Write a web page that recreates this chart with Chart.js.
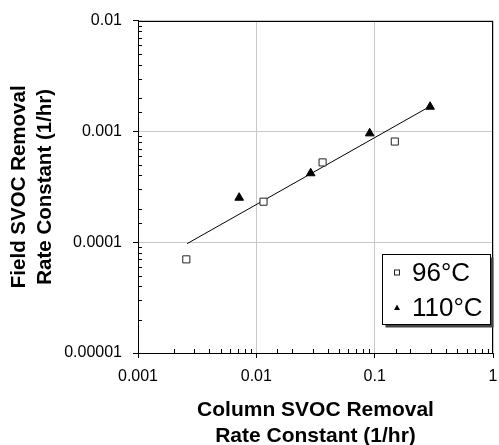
<!DOCTYPE html>
<html>
<head>
<meta charset="utf-8">
<script src="https://cdn.jsdelivr.net/npm/chart.js@4/dist/chart.umd.min.js"></script>
<style>
  body { margin: 0; background: #fff; }
  #wrap { width: 499px; height: 445px; position: relative; }
</style>
</head>
<body>
<div id="wrap"><canvas id="svocChart"></canvas></div>
<script>
// valeurs
const colX96 = [0.00256, 0.0115, 0.0363, 0.148];
const fieldY96 = [0.000070, 0.000232, 0.000525, 0.00081];
const colX110 = [0.00716, 0.0288, 0.0908, 0.294];
const fieldY110 = [0.000252, 0.000419, 0.00096, 0.00167];
const fitX = [0.0026, 0.27];
const fitY = [0.000097, 0.0016];
const seriesLabels = ['96\u00B0C', '110\u00B0C'];
const xTitle = ['Column SVOC Removal', 'Rate Constant (1/hr)'];
const yTitle = ['Field SVOC Removal', 'Rate Constant (1/hr)'];

const FONT = '"Liberation Sans", Arial, Helvetica, sans-serif';

function toPoints(xs, ys) {
    return xs.map((v, i) => ({ x: v, y: ys[i] }));
}

function isPow10(v) {
    const l = Math.log10(v);
    return Math.abs(l - Math.round(l)) < 1e-6;
}

function decadeLabel(v) {
    return isPow10(v) ? String(10 ** Math.round(Math.log10(v))) : '';
}

// cadre, graduations secondaires vers l'intérieur
const framePlugin = {
    id: 'frame',
    beforeDatasetsDraw(chart) {
        const { ctx, chartArea: a, scales: { x, y } } = chart;
        ctx.save();
        ctx.strokeStyle = '#000';
        ctx.lineWidth = 1;
        ctx.beginPath();
        x.ticks.forEach(t => {
            if (isPow10(t.value)) return;
            const px = Math.round(x.getPixelForValue(t.value)) + 0.5;
            ctx.moveTo(px, a.bottom);
            ctx.lineTo(px, a.bottom - 4);
        });
        y.ticks.forEach(t => {
            if (isPow10(t.value)) return;
            const py = Math.round(y.getPixelForValue(t.value)) + 0.5;
            ctx.moveTo(a.left, py);
            ctx.lineTo(a.left + 4, py);
        });
        ctx.stroke();
        ctx.strokeRect(Math.round(a.left) + 0.5, Math.round(a.top) + 0.5,
            Math.round(a.right - a.left) - 1, Math.round(a.bottom - a.top));
        ctx.restore();
    }
};

// légende encadrée avec ombre
const boxLegend = {
    id: 'boxLegend',
    afterDraw(chart) {
        const { ctx } = chart;
        const bx = 382.5, by = 254.5, bw = 108, bh = 70;
        ctx.save();
        ctx.fillStyle = '#444';
        ctx.fillRect(bx + 3, by + 3, bw, bh);
        ctx.fillStyle = '#fff';
        ctx.fillRect(bx, by, bw, bh);
        ctx.strokeStyle = '#000';
        ctx.lineWidth = 1;
        ctx.strokeRect(bx, by, bw, bh);

        const rows = [by + 18, by + 53];
        // carré
        ctx.strokeStyle = '#222';
        ctx.strokeRect(394.5, rows[0] - 2.5, 5, 5);
        // triangle
        ctx.fillStyle = '#000';
        ctx.beginPath();
        ctx.moveTo(397, rows[1] - 3);
        ctx.lineTo(400, rows[1] + 2.5);
        ctx.lineTo(394, rows[1] + 2.5);
        ctx.closePath();
        ctx.fill();

        ctx.fillStyle = '#000';
        ctx.font = '26px ' + FONT;
        ctx.textBaseline = 'middle';
        ctx.textAlign = 'left';
        ctx.fillText(seriesLabels[0], 412, rows[0] + 1);
        ctx.fillText(seriesLabels[1], 412, rows[1] + 1);
        ctx.restore();
    }
};

const gridColor = c => (c.tick && isPow10(c.tick.value)) ? '#c8c8c8' : 'rgba(0,0,0,0)';
const tickColor = c => (c.tick && isPow10(c.tick.value)) ? '#000' : 'rgba(0,0,0,0)';

new Chart(document.getElementById('svocChart'), {
    type: 'scatter',
    data: {
        datasets: [
            {
                label: 'fit',
                type: 'line',
                data: toPoints(fitX, fitY),
                borderColor: '#000',
                borderWidth: 1,
                pointRadius: 0,
                fill: false,
                order: 3
            },
            {
                label: seriesLabels[0],
                data: toPoints(colX96, fieldY96),
                pointStyle: 'rect',
                pointRadius: 5,
                backgroundColor: '#fff',
                borderColor: '#222',
                borderWidth: 1,
                order: 1
            },
            {
                label: seriesLabels[1],
                data: toPoints(colX110, fieldY110),
                pointStyle: 'triangle',
                pointRadius: 5,
                backgroundColor: '#000',
                borderColor: '#000',
                borderWidth: 1,
                order: 2
            }
        ]
    },
    options: {
        responsive: true,
        maintainAspectRatio: false,
        animation: false,
        layout: { padding: { top: 20, right: 2, left: 0, bottom: 0 } },
        plugins: {
            legend: { display: false },
            tooltip: { enabled: false }
        },
        scales: {
            x: {
                type: 'logarithmic',
                min: 0.001,
                max: 1,
                afterFit: s => { s.height = 92; s.paddingRight = 0; s.paddingLeft = 0; },
                grid: { color: gridColor, tickColor: tickColor, tickLength: 5 },
                border: { color: '#000', width: 1 },
                ticks: {
                    autoSkip: false,
                    maxRotation: 0,
                    padding: 9,
                    color: '#000',
                    font: { family: FONT, size: 16 },
                    callback: v => decadeLabel(v)
                },
                title: {
                    display: true,
                    text: xTitle,
                    color: '#000',
                    font: { family: FONT, size: 21, weight: 'bold', lineHeight: 1.24 },
                    padding: { top: 0, bottom: -4 }
                }
            },
            y: {
                type: 'logarithmic',
                min: 0.00001,
                max: 0.01,
                afterFit: s => { s.width = 138; },
                grid: { color: gridColor, tickColor: tickColor, tickLength: 5 },
                border: { color: '#000', width: 1 },
                ticks: {
                    autoSkip: false,
                    padding: 11,
                    color: '#000',
                    font: { family: FONT, size: 16 },
                    callback: v => decadeLabel(v)
                },
                title: {
                    display: true,
                    text: yTitle,
                    color: '#000',
                    font: { family: FONT, size: 20.5, weight: 'bold', lineHeight: 1.24 },
                    padding: { top: 7, bottom: 0 }
                }
            }
        }
    },
    plugins: [framePlugin, boxLegend]
});
</script>
</body>
</html>
